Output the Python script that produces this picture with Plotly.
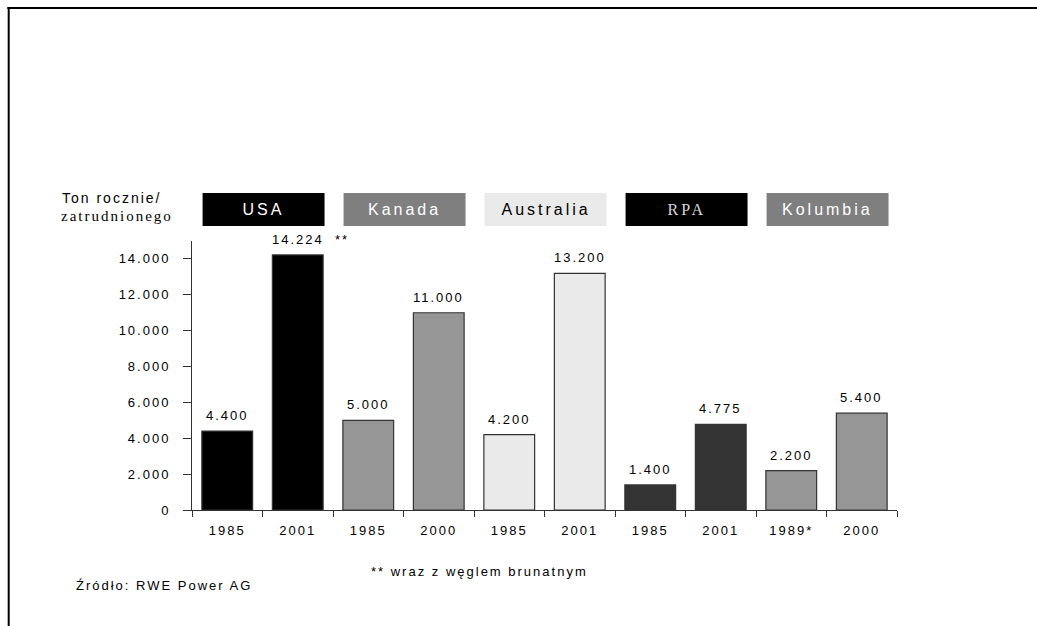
import plotly.graph_objects as go

countries = ["USA", "Kanada", "Australia", "RPA", "Kolumbia"]
years = ["1985", "2001", "1985", "2000", "1985", "2001", "1985", "2001", "1989*", "2000"]
values = [4400, 14224, 5000, 11000, 4200, 13200, 1400, 4775, 2200, 5400]
notes = ["", "**", "", "", "", "", "", "", "", ""]
bar_colors_by_country = ["#000000", "#969696", "#eaeaea", "#333333", "#969696"]
header_fill = ["#000000", "#7f7f7f", "#eaeaea", "#000000", "#7f7f7f"]
header_text_color = ["#ffffff", "#ffffff", "#000000", "#d9d9d9", "#ffffff"]
header_font = ["Liberation Sans", "Liberation Sans", "Liberation Sans", "Liberation Serif", "Liberation Sans"]
y_ticks = [0, 2000, 4000, 6000, 8000, 10000, 12000, 14000]

SANS = "Liberation Sans, Arial, sans-serif"
idx = list(range(len(values)))
bar_colors = [bar_colors_by_country[i // 2] for i in idx]

def fmt(v):
    return f"{v:,}".replace(",", ".")

fig = go.Figure()
fig.add_trace(go.Bar(
    x=idx, y=values, width=0.72,
    marker=dict(color=bar_colors, line=dict(color="#333333", width=1.2)),
    hoverinfo="skip",
))

annotations = []
for i, v in zip(idx, values):
    annotations.append(dict(x=i, y=v, xref="x", yref="y", text=fmt(v), showarrow=False,
                            yanchor="bottom", yshift=6, font=dict(family=SANS, size=13, color="#000")))
    if notes[i]:
        annotations.append(dict(x=i, y=v, xref="x", yref="y", text=notes[i], showarrow=False,
                                yanchor="bottom", xanchor="center", xshift=44, yshift=6,
                                font=dict(family=SANS, size=13, color="#000")))

shapes = []
for g, c in enumerate(countries):
    x0 = 2 * g - 0.35
    x1 = 2 * g + 1.38
    shapes.append(dict(type="rect", xref="x", yref="paper", x0=x0, x1=x1, y0=1.056, y1=1.178,
                       fillcolor=header_fill[g], line=dict(width=0), layer="above"))
    annotations.append(dict(x=(x0 + x1) / 2, y=1.117, xref="x", yref="paper", text=c, showarrow=False,
                            xanchor="center", yanchor="middle",
                            font=dict(family=header_font[g], size=16, color=header_text_color[g])))

# frame lines
shapes.append(dict(type="line", xref="paper", yref="paper", x0=-0.262, x1=1.2, y0=1.866, y1=1.866,
                   line=dict(color="#000", width=2)))
shapes.append(dict(type="line", xref="paper", yref="paper", x0=-0.260, x1=-0.260, y0=1.87, y1=-0.44,
                   line=dict(color="#000", width=2)))

annotations += [
    dict(x=-0.170, y=1.160, xref="paper", yref="paper", text="Ton rocznie/", showarrow=False,
         xanchor="left", yanchor="middle", font=dict(family=SANS, size=14, color="#000")),
    dict(x=-0.170, y=1.093, xref="paper", yref="paper", text="zatrudnionego", showarrow=False,
         xanchor="left", yanchor="middle", font=dict(family="Liberation Serif, serif", size=15, color="#000")),
    dict(x=0.408, y=-0.227, xref="paper", yref="paper", text="** wraz z węglem brunatnym", showarrow=False,
         xanchor="center", yanchor="middle", font=dict(family=SANS, size=13, color="#000")),
    dict(x=-0.139, y=-0.279, xref="paper", yref="paper", text="Źródło: RWE Power AG", showarrow=False,
         xanchor="left", yanchor="middle", font=dict(family=SANS, size=13, color="#000")),
]

fig.update_layout(
    width=1037, height=626,
    margin=dict(l=192, r=140, t=241, b=116),
    paper_bgcolor="white", plot_bgcolor="white",
    separators=",.",
    showlegend=False,
    bargap=0.28,
    font=dict(family=SANS, size=13, color="#000"),
    shapes=shapes, annotations=annotations,
    xaxis=dict(range=[-0.5, len(values) - 0.5], tickmode="array", tickvals=idx, ticktext=years,
               ticks="", showgrid=False, zeroline=False, showline=True, linecolor="#333", linewidth=1,
               tickfont=dict(family=SANS, size=13, color="#000"), ticklabelstandoff=8,
               minor=dict(tickmode="array", tickvals=[i - 0.5 for i in range(len(values) + 1)],
                          ticks="outside", ticklen=6, tickcolor="#333", tickwidth=1, showgrid=False)),
    yaxis=dict(range=[0, 15000], tickmode="array", tickvals=y_ticks, tickformat=",d",
               ticks="outside", ticklen=8, tickcolor="#333", showgrid=False, zeroline=False,
               showline=True, linecolor="#333", linewidth=1, ticklabelstandoff=10,
               tickfont=dict(family=SANS, size=13, color="#000")),
)

POST = """
document.body.style.margin = '0';
document.querySelectorAll('.main-svg text').forEach(function(t){
  var fs = parseFloat(t.style.fontSize || '13');
  t.style.letterSpacing = fs >= 16 ? '3px' : '2px';
});
"""
fig.write_html("out.html", post_script=POST, config={"displayModeBar": False})
